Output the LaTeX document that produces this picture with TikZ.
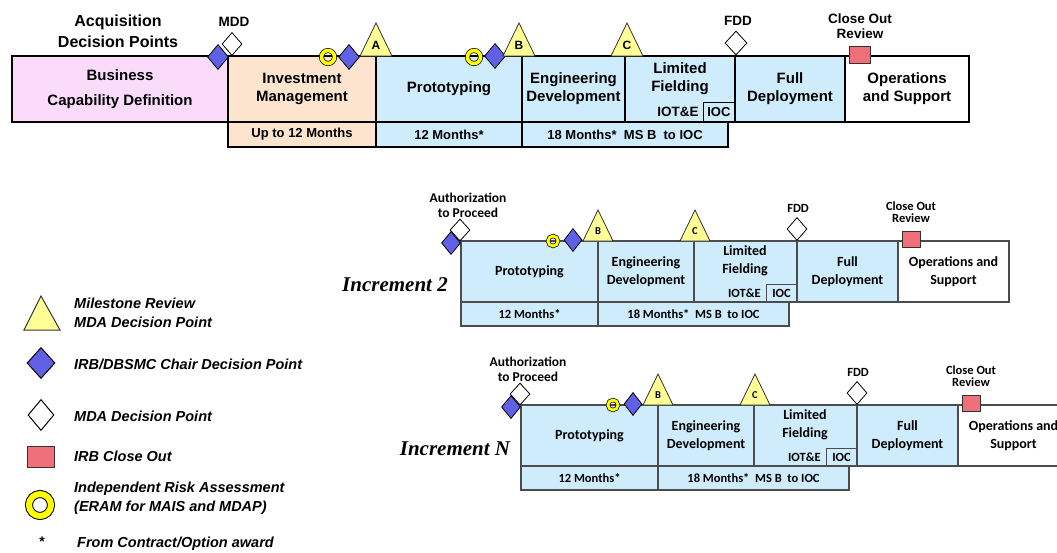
\documentclass[tikz,border=0pt]{standalone}
\usepackage{fontspec}
\setmainfont{Liberation Sans}
\newfontfamily\calfont{Carlito}
\newfontfamily\romfont{Liberation Serif}
\usetikzlibrary{positioning,shapes.geometric,calc}

\definecolor{bizpink}{RGB}{250,220,250}
\definecolor{invorange}{RGB}{252,228,206}
\definecolor{protoblue}{RGB}{206,236,252}
\definecolor{irbblue}{RGB}{96,96,228}
\definecolor{msyellow}{RGB}{255,255,150}
\definecolor{ringyellow}{RGB}{255,255,0}
\definecolor{closered}{RGB}{240,112,122}

\tikzset{
  topstage/.style={draw=black, line width=1.5pt, minimum height=66, inner sep=0pt, outer sep=0pt,
                   align=center, font=\bfseries\fontsize{15}{18}\selectfont},
  topmonth/.style={draw=black, line width=1.2pt, minimum height=25, inner sep=0pt, outer sep=0pt,
                   font=\bfseries\fontsize{13}{15}\selectfont},
  incstage/.style={draw=black!70, line width=1.3pt, minimum height=61, inner sep=0pt, outer sep=0pt,
                   align=center, font=\calfont\bfseries\fontsize{14}{18}\selectfont},
  incmonth/.style={draw=black!70, line width=1.3pt, minimum height=24, inner sep=0pt, outer sep=0pt,
                   font=\calfont\bfseries\fontsize{12.5}{15}\selectfont},
  irb/.style={diamond, draw=black, fill=irbblue, line width=0.8pt, inner sep=0pt},
  mda/.style={diamond, draw=black, fill=white, line width=0.8pt, inner sep=0pt},
  closeout/.style={rectangle, draw=black!80, fill=closered, line width=0.8pt, inner sep=0pt},
  ira/.style={circle, draw=black, line width=0.7pt, double=ringyellow, inner sep=0pt},
  mstri/.style={draw=black!80, fill=msyellow, line width=0.8pt},
  toplabel/.style={align=center, inner sep=0pt, font=\bfseries\fontsize{13.5}{15}\selectfont},
  inclabel/.style={align=center, inner sep=0pt, font=\calfont\bfseries\fontsize{13.5}{15}\selectfont},
  legtext/.style={anchor=west, align=left, inner sep=0pt, font=\bfseries\itshape\fontsize{14.5}{19}\selectfont},
}

\begin{document}
\begin{tikzpicture}[x=1pt, y=-1pt]
  \useasboundingbox (0,0) rectangle (1057,552);

  % Top row: whole life cycle
  \node[font=\bfseries\fontsize{16}{21}\selectfont, align=center] (adp) at (118,31) {Acquisition\\Decision Points};

  \node[topstage, fill=bizpink, minimum width=216, anchor=north west] (bcd) at (12,56) {Business\\[7pt]Capability Definition};
  \node[topstage, fill=invorange, minimum width=148, right=0pt of bcd] (inv) {Investment\\Management};
  \node[topstage, fill=protoblue, minimum width=146, right=0pt of inv] (proto) {Prototyping};
  \node[topstage, fill=protoblue, minimum width=103, right=0pt of proto] (eng) {Engineering\\Development};
  \node[topstage, fill=protoblue, minimum width=110, right=0pt of eng] (lf) {};
  \node[topstage, fill=protoblue, minimum width=110, right=0pt of lf] (fd) {Full\\Deployment};
  \node[topstage, fill=white, minimum width=124, right=0pt of fd] (ops) {Operations\\and Support};

  \node[align=center, inner sep=0pt, font=\bfseries\fontsize{15}{18}\selectfont] (lftxt) at (680,79) {Limited\\Fielding};
  \node[draw=black, line width=1.2pt, minimum width=31, minimum height=19, inner sep=0pt, anchor=south east,
        font=\bfseries\fontsize{13}{15}\selectfont] (ioc) at (lf.south east) {IOC};
  \node[left=4pt of ioc, inner sep=0pt, font=\bfseries\fontsize{13.5}{15}\selectfont] (iote) {IOT\&E};

  % months
  \node[topmonth, fill=invorange, minimum width=148, anchor=north west] (minv) at (inv.south west) {Up to 12 Months};
  \node[topmonth, fill=protoblue, minimum width=146, right=0pt of minv] (mproto) {12 Months*};
  \node[topmonth, fill=protoblue, minimum width=206, right=0pt of mproto] (meng) {18 Months*\ \ MS B\ \ to IOC};

  % decision points
  \node[mda, minimum width=20, minimum height=23] (mdd) at (232,44) {};
  \node[irb, minimum width=21, minimum height=25] (irb0) at (218,57) {};
  \node[toplabel] (mddlbl) at (234,22) {MDD};

  \node[ira, double distance=3.6pt, minimum size=13] (ira1) at (328,57) {};
  \node[irb, minimum width=21, minimum height=25] (irb1) at (349,57) {};
  \node[ira, double distance=3.6pt, minimum size=13] (ira2) at (474,57) {};
  \node[irb, minimum width=21, minimum height=25] (irb2) at (495,56) {};

  \foreach \mx/\lt in {376/A, 519/B, 627/C} {
    \draw[mstri] (\mx-16,56) -- (\mx,23) -- (\mx+16,56) -- cycle;
    \node[inner sep=0pt, font=\bfseries\fontsize{12}{12}\selectfont] (ms-\lt) at (\mx,45) {\lt};
  }

  \node[mda, minimum width=22, minimum height=24] (fdd) at (736,43) {};
  \node[toplabel] (fddlbl) at (738,21) {FDD};
  \node[closeout, minimum width=21, minimum height=17] (cor) at (860,55) {};
  \node[toplabel] (corlbl) at (860,26.5) {Close Out\\Review};

  % Increments 2 and N
  \foreach \dx/\dy/\nm/\inc in {0/0/two/2, 60/164/enn/N} {
  \begin{scope}[shift={(\dx,\dy)}]
    \node[incstage, fill=protoblue, minimum width=137, anchor=north west] (\nm-proto) at (461,241) {Prototyping};
    \node[incstage, fill=protoblue, minimum width=96, right=0pt of \nm-proto] (\nm-eng) {Engineering\\Development};
    \node[incstage, fill=protoblue, minimum width=103, right=0pt of \nm-eng] (\nm-lf) {};
    \node[incstage, fill=protoblue, minimum width=101, right=0pt of \nm-lf] (\nm-fd) {Full\\Deployment};
    \node[incstage, fill=white, minimum width=111, right=0pt of \nm-fd] (\nm-ops) {Operations and\\Support};

    \node[align=center, inner sep=0pt, font=\calfont\bfseries\fontsize{14}{18}\selectfont] (\nm-lftxt) at (745,261) {Limited\\Fielding};
    \node[draw=black!70, line width=1.1pt, minimum width=30, minimum height=17, inner sep=0pt, anchor=south east,
          font=\calfont\bfseries\fontsize{12.5}{14}\selectfont] (\nm-ioc) at (\nm-lf.south east) {IOC};
    \node[left=5pt of \nm-ioc, inner sep=0pt, font=\calfont\bfseries\fontsize{12.5}{14}\selectfont] (\nm-iote) {IOT\&E};

    \node[incmonth, fill=protoblue, minimum width=137, anchor=north west] (\nm-m12) at (\nm-proto.south west) {12 Months*};
    \node[incmonth, fill=protoblue, minimum width=191, right=0pt of \nm-m12] (\nm-m18) {18 Months*\ \ MS B\ \ to IOC};

    \node[inclabel] (\nm-atp) at (468,205) {Authorization\\to Proceed};
    \node[mda, minimum width=20, minimum height=22] (\nm-atpw) at (460,230) {};
    \node[irb, minimum width=19, minimum height=23] (\nm-atpb) at (451,243) {};

    \node[ira, double distance=2.8pt, minimum size=10] (\nm-ira) at (553,241) {};
    \node[irb, minimum width=18, minimum height=23] (\nm-irb) at (573,240) {};

    \foreach \mx/\lt in {598/B, 695/C} {
      \draw[mstri] (\mx-15,241) -- (\mx,210) -- (\mx+15,241) -- cycle;
      \node[inner sep=0pt, font=\calfont\bfseries\fontsize{10.5}{11}\selectfont] (\nm-ms-\lt) at (\mx,231) {\lt};
    }

    \node[mda, minimum width=20, minimum height=23] (\nm-fdd) at (797,229) {};
    \node[inclabel, font=\calfont\bfseries\fontsize{12.5}{13}\selectfont] (\nm-fddlbl) at (798,208) {FDD};
    \node[closeout, minimum width=18, minimum height=16] (\nm-cor) at (911,239) {};
    \node[inclabel, font=\calfont\bfseries\fontsize{12.5}{12.5}\selectfont] (\nm-corlbl) at (911,212) {Close Out\\Review};

    \node[inner sep=0pt, font=\romfont\bfseries\itshape\fontsize{21}{24}\selectfont] (\nm-title) at (395,285) {Increment \inc};
  \end{scope}
  }

  % Legend
  \draw[mstri, line width=1pt] (24,330) -- (41,296) -- (60,330) -- cycle;
  \node[legtext] (leg-ms) at (74,312.5) {Milestone Review\\MDA Decision Point};
  \node[irb, line width=1pt, minimum width=28, minimum height=31] (leg-irbsym) at (41,363) {};
  \node[legtext] (leg-irb) at (74,364) {IRB/DBSMC Chair Decision Point};
  \node[mda, line width=1pt, minimum width=26, minimum height=31] (leg-mdasym) at (41,415) {};
  \node[legtext] (leg-mda) at (74,416) {MDA Decision Point};
  \node[closeout, line width=1pt, minimum width=27, minimum height=21] (leg-cosym) at (41,457) {};
  \node[legtext] (leg-co) at (74,456) {IRB Close Out};
  \node[ira, line width=1pt, double distance=6pt, minimum size=22] (leg-irasym) at (40,505) {};
  \node[legtext] (leg-ira) at (74,498.5) {Independent Risk Assessment\\(ERAM for MAIS and MDAP)};
  \node[inner sep=0pt, font=\bfseries\fontsize{14}{14}\selectfont] (leg-star) at (42,542) {*};
  \node[legtext] (leg-startxt) at (77,543.5) {From Contract/Option award};
\end{tikzpicture}
\end{document}
